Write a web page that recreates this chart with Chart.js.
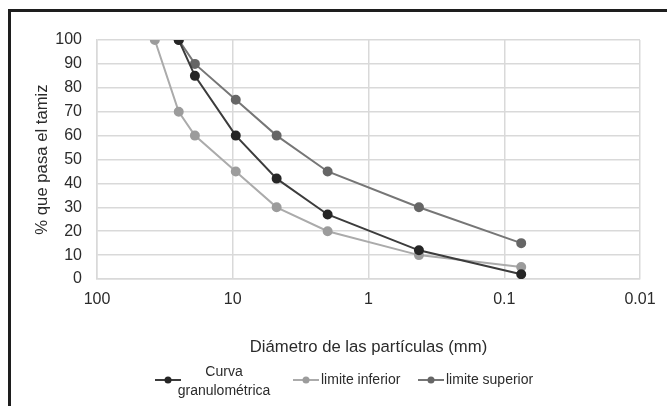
<!DOCTYPE html>
<html>
<head>
<meta charset="utf-8">
<script src="https://cdn.jsdelivr.net/npm/chart.js@4.4.1/dist/chart.umd.min.js"></script>
<style>
  html, body { margin: 0; padding: 0; background: #fff; }
  #wrap { position: relative; width: 667px; height: 406px; }
  #frame {
    position: absolute; left: 8px; top: 9px; right: 0; bottom: 0;
    border-left: 3px solid #1e1e1e; border-top: 3px solid #1e1e1e;
    pointer-events: none;
  }
</style>
</head>
<body>
<div id="wrap">
  <canvas id="myChart" width="667" height="406"></canvas>
  <div id="frame"></div>
</div>
<script>
// sieve sizes (mm) and % passing
const sizes = [37.5, 25, 19, 9.5, 4.75, 2, 0.425, 0.075];
const curva = [null, 100, 85, 60, 42, 27, 12, 2];
const inferior = [100, 70, 60, 45, 30, 20, 10, 5];
const superior = [null, 100, 90, 75, 60, 45, 30, 15];

const seriesNames = [["Curva", "granulométrica"], "limite inferior", "limite superior"];
const xTicks = [100, 10, 1, 0.1, 0.01];
const xTickLabels = ["100", "10", "1", "0.1", "0.01"];
const yTicks = [0, 10, 20, 30, 40, 50, 60, 70, 80, 90, 100];

const gridColor = '#d9d9d9';
const textColor = '#2b2b2b';
const fontFamily = "'Liberation Sans', Arial, sans-serif";

// turn a value list into {x,y} points, skip the empty ones
function points(values) {
  return sizes.map((x, i) => ({ x: x, y: values[i] })).filter(p => p.y !== null);
}

function makeSet(label, values, line, dot) {
  return {
    label: label,
    data: points(values),
    borderColor: line,
    backgroundColor: dot,
    pointBackgroundColor: dot,
    pointBorderColor: dot,
    borderWidth: 2,
    pointRadius: 4,
    pointHoverRadius: 4,
    tension: 0
  };
}

// legend drawn by hand so the two-line label sits centred like the original
const legendX = [155, 293, 418];
const legendPlugin = {
  id: 'excelLegend',
  afterDraw(chart) {
    const c = chart.ctx;
    c.save();
    c.font = "14px " + fontFamily;
    c.fillStyle = textColor;
    c.textBaseline = 'middle';
    chart.data.datasets.forEach((ds, i) => {
      const x = legendX[i];
      const y = 380;
      c.strokeStyle = ds.borderColor;
      c.lineWidth = 2;
      c.beginPath();
      c.moveTo(x, y);
      c.lineTo(x + 26, y);
      c.stroke();
      c.fillStyle = ds.pointBackgroundColor;
      c.beginPath();
      c.arc(x + 13, y, 3.5, 0, Math.PI * 2);
      c.fill();
      c.fillStyle = textColor;
      const name = seriesNames[i];
      if (Array.isArray(name)) {
        c.textAlign = 'center';
        c.fillText(name[0], x + 69, y - 8);
        c.fillText(name[1], x + 69, y + 11);
      } else {
        c.textAlign = 'left';
        c.fillText(name, x + 28, y);
      }
    });
    c.restore();
  }
};

let ctx = document.getElementById('myChart');

let myChart = new Chart(ctx, {
  type: 'line',
  data: {
    datasets: [
      makeSet("Curva granulométrica", curva, '#3c3c3c', '#262626'),
      makeSet("limite inferior", inferior, '#ababab', '#9c9c9c'),
      makeSet("limite superior", superior, '#767676', '#666666')
    ]
  },
  options: {
    responsive: false,
    animation: false,
    layout: { padding: { top: 40, right: 27, left: 0, bottom: 0 } },
    plugins: {
      legend: { display: false },
      tooltip: { enabled: false }
    },
    scales: {
      x: {
        type: 'logarithmic',
        reverse: true,
        min: 0.01,
        max: 100,
        afterBuildTicks: axis => {
          axis.ticks = xTicks.map(v => ({ value: v }));
        },
        afterFit: axis => { axis.height = 127; },
        grid: { color: gridColor, lineWidth: 1.5, drawTicks: false },
        border: { color: gridColor, width: 1.5 },
        ticks: {
          padding: 11,
          color: textColor,
          font: { family: fontFamily, size: 16 },
          callback: (value) => {
            const idx = xTicks.indexOf(value);
            return idx >= 0 ? xTickLabels[idx] : '';
          }
        },
        title: {
          display: true,
          text: 'Diámetro de las partículas (mm)',
          color: textColor,
          font: { family: fontFamily, size: 16.7 },
          padding: { top: 0, bottom: 49 }
        }
      },
      y: {
        min: 0,
        max: 100,
        afterBuildTicks: axis => {
          axis.ticks = yTicks.map(v => ({ value: v }));
        },
        afterFit: axis => { axis.width = 97; },
        grid: { color: gridColor, lineWidth: 1.5, drawTicks: false },
        border: { color: gridColor, width: 1.5 },
        ticks: {
          padding: 15,
          color: textColor,
          font: { family: fontFamily, size: 16 }
        },
        title: {
          display: true,
          text: '% que pasa el tamiz',
          color: textColor,
          font: { family: fontFamily, size: 16.7 },
          padding: { top: 32, bottom: 0 }
        }
      }
    }
  },
  plugins: [legendPlugin]
});
</script>
</body>
</html>
